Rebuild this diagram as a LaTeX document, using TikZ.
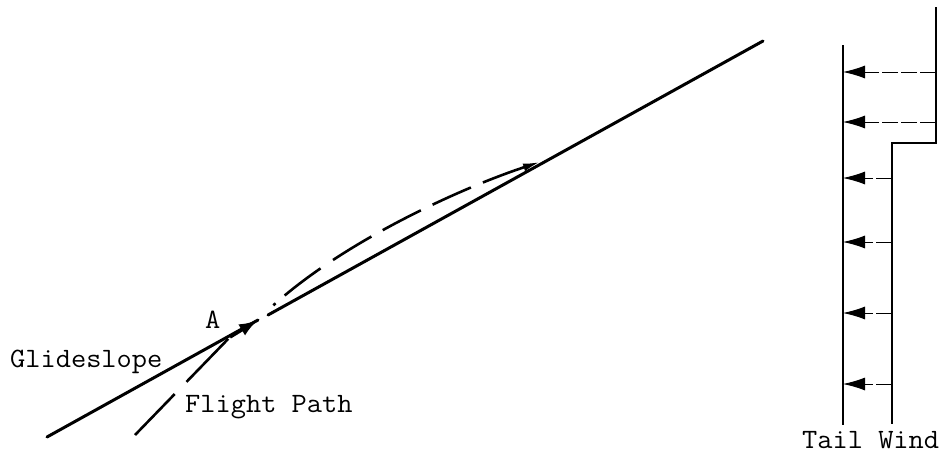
\documentclass[tikz,border=0pt]{standalone}
\usepackage{fontspec}
\newfontfamily\typew{Latin Modern Mono}[FakeStretch=1.055]
\usetikzlibrary{arrows.meta}
\begin{document}
\begin{tikzpicture}[x=1pt,y=-1pt,
  lbl/.style={inner sep=0pt, anchor=base west, font=\typew\fontsize{28}{32}\selectfont},
  heavy/.style={line width=3pt, line cap=round},
  fpdash/.style={line width=2.6pt},
  windarrow/.style={line width=0.9pt, dash pattern=on 16pt off 3pt, -{Latex[length=22pt,width=13pt]}},
  windline/.style={line width=2.8pt}]
\useasboundingbox (0,0) rectangle (944,458);
% glideslope
\coordinate (gs0) at (47,437);
\coordinate (gs1) at (763,41);
\coordinate (A) at (230,337);
\coordinate (tipA) at (258,320);
\coordinate (gsB) at (268,315);
\coordinate (fp0) at (135,435);
\coordinate (fpS) at (261,317);
\coordinate (merge) at (540,162);
\draw[heavy] (gs0) -- (tipA);
\draw[heavy] (gsB) -- (gs1);
% flight path
\draw[fpdash, dash pattern=on 57pt off 17pt on 60pt] (fp0) -- (A);
\draw[line width=3.5pt, -{Latex[length=19pt,width=13pt]}] (A) -- (tipA);
\draw[fpdash, dash pattern=on 0pt off 17pt on 3pt off 12pt on 45pt off 15pt on 45pt off 13pt on 43pt off 13pt on 42pt off 13pt on 60pt,
      -{Latex[length=17pt,width=8pt]}]
  (fpS) .. controls (331,247) and (458,189) .. (merge);
% labels
\node[lbl] (A label) at (205,328) {A};
\node[lbl] (glide) at (10,367) {Glideslope};
\node[lbl] (flight) at (185,412) {Flight Path};
\node[lbl] (tail) at (802,448) {Tail Wind};
% wind profile
\coordinate (L0) at (843,45);
\coordinate (L1) at (843,425);
\coordinate (R0) at (936,7);
\coordinate (R1) at (936,143);
\coordinate (R2) at (892,143);
\coordinate (R3) at (892,424);
\draw[windline] (L0) -- (L1);
\draw[windline] (R0) -- (R1) -- (R2) -- (R3);
\foreach \y/\x in {72/936,122/936,178/892,242/892,313/892,384/892}{
  \coordinate (ws\y) at (\x,\y);
  \coordinate (we\y) at (843,\y);
  \draw[windarrow] (ws\y) -- (we\y);
}
\end{tikzpicture}
\end{document}
